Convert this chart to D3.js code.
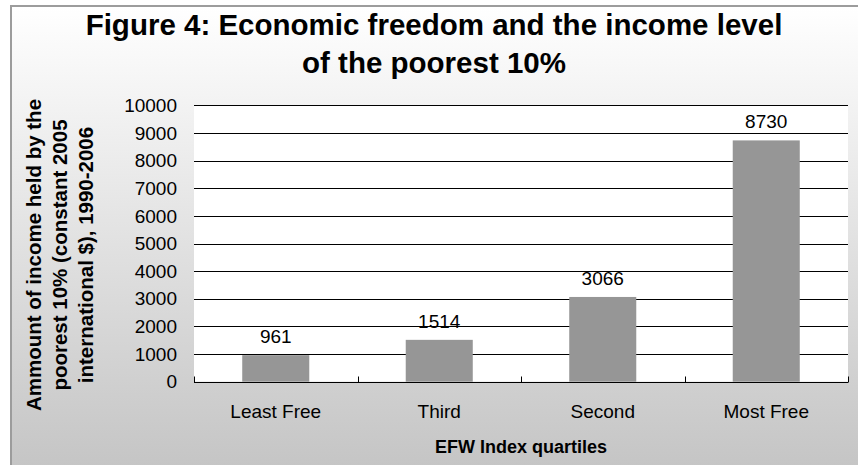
<!DOCTYPE html>
<html>
<head>
<meta charset="utf-8">
<script src="https://cdn.jsdelivr.net/npm/d3@7/dist/d3.min.js"></script>
<style>
  html, body { margin: 0; padding: 0; background: #ffffff; }
  svg { display: block; }
  text { font-family: Arial, "Liberation Sans", sans-serif; fill: #000; }
</style>
</head>
<body>
<svg id="chart" width="858" height="465"></svg>
<script>
// Income of the poorest 10% by EFW quartile
const categories = ["Least Free", "Third", "Second", "Most Free"];
const values = [961, 1514, 3066, 8730];
const yTicks = [0, 1000, 2000, 3000, 4000, 5000, 6000, 7000, 8000, 9000, 10000];
const titleLines = ["Figure 4: Economic freedom and the income level", "of the poorest 10%"];
const yTitleLines = ["Ammount of income held by the", "poorest 10% (constant 2005", "international $), 1990-2006"];
const xTitle = "EFW Index quartiles";

const W = 858, H = 465;
const plot = { left: 194, right: 848, top: 105.3, bottom: 381.7 };

const svg = d3.select("#chart");

// Chart background: soft vertical gradient inside a grey frame
const defs = svg.append("defs");
const grad = defs.append("linearGradient")
  .attr("id", "bg").attr("x1", 0).attr("y1", 0).attr("x2", 0).attr("y2", 1);
grad.append("stop").attr("offset", "0%").attr("stop-color", "#ffffff");
grad.append("stop").attr("offset", "100%").attr("stop-color", "#c2c2c2");

svg.append("rect")
  .attr("x", 11).attr("y", 6)
  .attr("width", W + 20).attr("height", H + 20)
  .attr("fill", "url(#bg)")
  .attr("stroke", "#9c9c9c").attr("stroke-width", 2);

const x = d3.scaleBand()
  .domain(categories)
  .range([plot.left, plot.right])
  .paddingInner(0.59)
  .paddingOuter(0.295);

const xb = d3.scaleBand()
  .domain(categories)
  .range([plot.left, plot.right]);

const y = d3.scaleLinear()
  .domain([0, 10000])
  .range([plot.bottom, plot.top]);

// Plot area
svg.append("rect")
  .attr("x", plot.left).attr("y", plot.top)
  .attr("width", plot.right - plot.left)
  .attr("height", plot.bottom - plot.top)
  .attr("fill", "#ffffff");

// Horizontal gridlines
svg.append("g")
  .selectAll("line")
  .data(yTicks.filter(d => d > 0))
  .join("line")
  .attr("x1", plot.left).attr("x2", plot.right)
  .attr("y1", d => Math.round(y(d)) + 0.5)
  .attr("y2", d => Math.round(y(d)) + 0.5)
  .attr("stroke", "#000").attr("stroke-width", 1);

// Bars
svg.append("g")
  .selectAll("rect")
  .data(values)
  .join("rect")
  .attr("x", (d, i) => x(categories[i]))
  .attr("y", d => y(d))
  .attr("width", x.bandwidth())
  .attr("height", d => y(0) - y(d))
  .attr("fill", "#969696");

// Value labels
svg.append("g")
  .selectAll("text")
  .data(values)
  .join("text")
  .attr("x", (d, i) => x(categories[i]) + x.bandwidth() / 2)
  .attr("y", d => y(d) - 12)
  .attr("text-anchor", "middle")
  .attr("font-size", 19)
  .text(d => d);

// X axis: baseline with inward ticks at category boundaries
const base = Math.round(y(0)) + 0.5;
svg.append("line")
  .attr("x1", plot.left).attr("x2", plot.right)
  .attr("y1", base).attr("y2", base)
  .attr("stroke", "#000").attr("stroke-width", 1);

const boundaries = categories.map(c => xb(c)).concat([plot.right]);
svg.append("g")
  .selectAll("line")
  .data(boundaries)
  .join("line")
  .attr("x1", d => Math.round(d) + 0.5).attr("x2", d => Math.round(d) + 0.5)
  .attr("y1", base).attr("y2", base - 6)
  .attr("stroke", "#000").attr("stroke-width", 1);

svg.append("g")
  .selectAll("text")
  .data(categories)
  .join("text")
  .attr("x", d => xb(d) + xb.bandwidth() / 2)
  .attr("y", 417.5)
  .attr("text-anchor", "middle")
  .attr("font-size", 19)
  .text(d => d);

// Y axis tick labels
svg.append("g")
  .selectAll("text")
  .data(yTicks)
  .join("text")
  .attr("x", 177)
  .attr("y", d => y(d))
  .attr("dy", "0.35em")
  .attr("text-anchor", "end")
  .attr("font-size", 19)
  .text(d => d);

// Axis titles
svg.append("text")
  .attr("x", (plot.left + plot.right) / 2)
  .attr("y", 452.5)
  .attr("text-anchor", "middle")
  .attr("font-size", 18)
  .attr("font-weight", "bold")
  .text(xTitle);

const yTitle = svg.append("text")
  .attr("transform", "translate(0,255) rotate(-90)")
  .attr("text-anchor", "middle")
  .attr("font-size", 20.5)
  .attr("font-weight", "bold");
yTitle.selectAll("tspan")
  .data(yTitleLines)
  .join("tspan")
  .attr("x", 0)
  .attr("y", (d, i) => 41 + i * 26)
  .text(d => d);

// Chart title
svg.append("g")
  .selectAll("text")
  .data(titleLines)
  .join("text")
  .attr("x", 434)
  .attr("y", (d, i) => 35 + i * 38)
  .attr("text-anchor", "middle")
  .attr("font-size", 29.5)
  .attr("font-weight", "bold")
  .text(d => d);
</script>
</body>
</html>
